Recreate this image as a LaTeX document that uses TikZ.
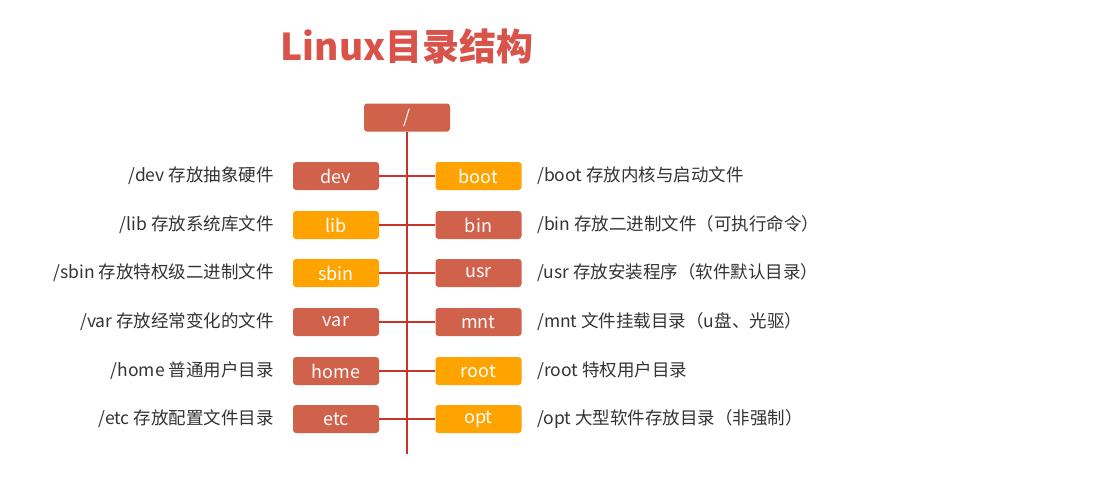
\documentclass[tikz,border=0pt]{standalone}
\usepackage{fontspec}
\setmainfont{Noto Sans CJK SC}
\usetikzlibrary{positioning}

\definecolor{boxred}{HTML}{D0614B}
\definecolor{boxorange}{HTML}{FFA300}
\definecolor{linered}{HTML}{C8342A}
\definecolor{titlered}{HTML}{D9534B}
\definecolor{labelgray}{HTML}{333333}

\tikzset{
  dirbox/.style={rounded corners=3pt, minimum width=86pt, minimum height=28pt,
    inner sep=0pt, text=white, font=\fontsize{18}{18}\selectfont},
  dirlabel/.style={inner sep=0pt, text=labelgray, font=\fontsize{17.5}{17.5}\selectfont},
  branch/.style={draw=linered, line width=2pt}
}

\begin{document}
\begin{tikzpicture}[x=1pt, y=-1pt]
  \useasboundingbox (0,0) rectangle (1116,477);

  \node [text=titlered, font=\bfseries\fontsize{37}{37}\selectfont] (title) at (407,46) {Linux目录结构};

  % root and trunk
  \node [dirbox, fill=boxred] (root) at (407,117.5) {/};
  \coordinate (trunkend) at (407,454);
  \draw [branch] (root) -- (trunkend);

  % one row per pair of directories
  \foreach \i/\ldir/\lcol/\ltext/\rdir/\rcol/\rtext in {%
      0/dev/boxred/{/dev 存放抽象硬件}/boot/boxorange/{/boot 存放内核与启动文件},
      1/lib/boxorange/{/lib 存放系统库文件}/bin/boxred/{/bin 存放二进制文件（可执行命令）},
      2/sbin/boxorange/{/sbin 存放特权级二进制文件}/usr/boxred/{/usr 存放安装程序（软件默认目录）},
      3/var/boxred/{/var 存放经常变化的文件}/mnt/boxred/{/mnt 文件挂载目录（u盘、光驱）},
      4/home/boxred/{/home 普通用户目录}/root/boxorange/{/root 特权用户目录},
      5/etc/boxred/{/etc 存放配置文件目录}/opt/boxorange/{/opt 大型软件存放目录（非强制）}}
  {
    \pgfmathsetmacro\rowy{round(176+48.7*\i)}
    \node [dirbox, fill=\lcol] (\ldir-box) at (336,\rowy) {\ldir};
    \node [dirbox, fill=\rcol] (\rdir-box) at (478.5,\rowy) {\rdir};
    \node [dirlabel, anchor=east] (\ldir-label) at (274,\rowy) {\ltext};
    \node [dirlabel, anchor=west] (\rdir-label) at (537,\rowy) {\rtext};
    \draw [branch] (\ldir-box) -- (\rdir-box);
  }
\end{tikzpicture}
\end{document}
